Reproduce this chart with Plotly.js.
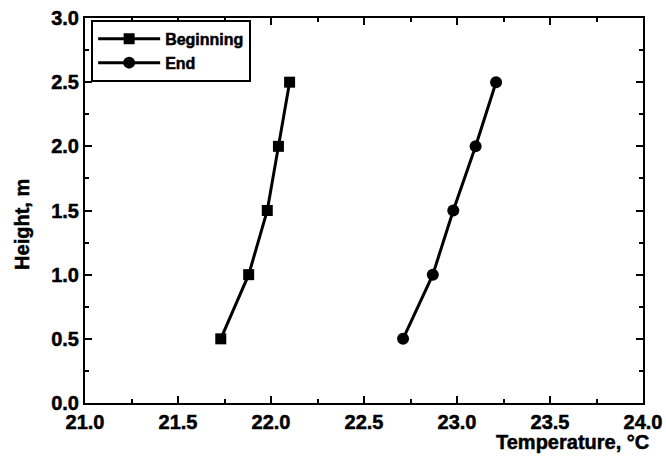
<!DOCTYPE html>
<html>
<head>
<meta charset="utf-8">
<script src="https://cdn.plot.ly/plotly-3.0.1.min.js"></script>
<style>
html,body{margin:0;padding:0;background:#fff;}
#chart{width:666px;height:460px;}
#chart svg text{stroke:#000;stroke-width:0.5px;}
</style>
</head>
<body>
<div id="chart"></div>
<script>
const heights = [0.5, 1.0, 1.5, 2.0, 2.5];
const tempBeginning = [21.73, 21.88, 21.98, 22.04, 22.10];
const tempEnd = [22.71, 22.87, 22.98, 23.10, 23.21];
const seriesNames = ["Beginning", "End"];
const xTickVals = [21.0, 21.5, 22.0, 22.5, 23.0, 23.5, 24.0];
const yTickVals = [0.0, 0.5, 1.0, 1.5, 2.0, 2.5, 3.0];

const fontFam = '"Liberation Sans", Arial, sans-serif';

const traces = [
  {
    x: tempBeginning, y: heights, name: seriesNames[0],
    mode: 'lines+markers', type: 'scatter',
    line: {color: '#000', width: 3},
    marker: {symbol: 'square', size: 11, color: '#000'}
  },
  {
    x: tempEnd, y: heights, name: seriesNames[1],
    mode: 'lines+markers', type: 'scatter',
    line: {color: '#000', width: 3},
    marker: {symbol: 'circle', size: 12, color: '#000'}
  }
];

const axisCommon = {
  showgrid: false, zeroline: false, showline: true,
  linecolor: '#000', linewidth: 2, mirror: 'allticks',
  ticks: 'inside', ticklen: 7, tickwidth: 2, tickcolor: '#000',
  tickfont: {family: fontFam, size: 20, color: '#000', weight: 700},
  minor: {ticks: 'inside', ticklen: 4, tickwidth: 2, tickcolor: '#000'}
};

const layout = {
  width: 666, height: 460,
  margin: {l: 85, r: 23, t: 18, b: 57},
  paper_bgcolor: '#fff', plot_bgcolor: '#fff',
  showlegend: true,
  legend: {
    x: 0.011, y: 0.995, xanchor: 'left', yanchor: 'top',
    bordercolor: '#000', borderwidth: 2, bgcolor: '#fff',
    font: {family: fontFam, size: 16, color: '#000', weight: 700},
    itemwidth: 62, tracegroupgap: 0
  },
  xaxis: Object.assign({}, axisCommon, {
    range: [21.0, 24.0], tickmode: 'array', tickvals: xTickVals,
    ticktext: xTickVals.map(v => '<b>' + v.toFixed(1) + '</b>'),
    minor: Object.assign({}, axisCommon.minor, {dtick: 0.25, tick0: 21.0})
  }),
  yaxis: Object.assign({}, axisCommon, {
    range: [0.0, 3.0], tickmode: 'array', tickvals: yTickVals,
    ticktext: yTickVals.map(v => '<b>' + v.toFixed(1) + '</b>'),
    minor: Object.assign({}, axisCommon.minor, {dtick: 0.25, tick0: 0})
  }),
  annotations: [
    {
      text: '<b>Temperature, °C</b>', xref: 'paper', yref: 'paper',
      x: 1.015, y: -0.068, xanchor: 'right', yanchor: 'top', showarrow: false,
      font: {family: fontFam, size: 20, color: '#000', weight: 700}
    },
    {
      text: '<b>Height, m</b>', xref: 'paper', yref: 'paper', textangle: -90,
      x: -0.113, y: 0.465, xanchor: 'center', yanchor: 'middle', showarrow: false,
      font: {family: fontFam, size: 20, color: '#000', weight: 700}
    }
  ]
};

Plotly.newPlot('chart', traces, layout, {displayModeBar: false, staticPlot: true});
</script>
</body>
</html>
